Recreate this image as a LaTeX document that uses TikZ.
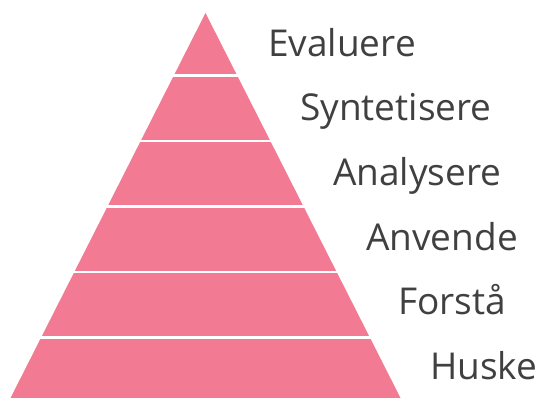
\documentclass[tikz,border=0pt]{standalone}
\usepackage{fontspec}
\setmainfont{Open Sans}
\definecolor{pinkband}{HTML}{F27A93}
\definecolor{labelgray}{HTML}{404040}
\begin{document}
\begin{tikzpicture}[x=1pt,y=-1pt,
  lbl/.style={anchor=base west,inner sep=0pt,text=labelgray,font=\fontsize{37}{40}\selectfont},
  sep/.style={draw=white,line width=2.2pt}]
\useasboundingbox (0,0) rectangle (539,398);
\coordinate (apex) at (205.5,13);
\coordinate (bl) at (10.5,398);
\coordinate (br) at (400.5,398);
\fill[pinkband] (apex) -- (bl) -- (br) -- cycle;
\foreach \y in {75.5,141,206.5,272,337.5}{
  \draw[sep] (0,\y) -- (420,\y);
}
\node[lbl] (l1) at (268,56.5) {Evaluere};
\node[lbl] (l2) at (300,121) {Syntetisere};
\node[lbl] (l3) at (333,186) {Analysere};
\node[lbl] (l4) at (366,250.5) {Anvende};
\node[lbl] (l5) at (398,315) {Forstå};
\node[lbl] (l6) at (430,380) {Huske};
\end{tikzpicture}
\end{document}
